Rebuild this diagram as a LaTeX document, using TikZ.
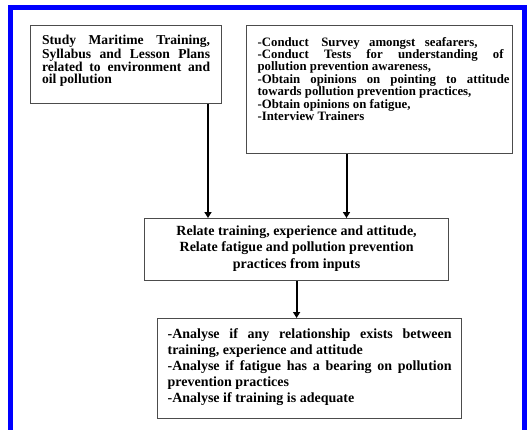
\documentclass[tikz,border=0pt]{standalone}
\usepackage{fontspec}
\setmainfont{Liberation Serif}
\usetikzlibrary{arrows.meta}
\newcommand\natsp{\spaceskip=0pt\xspaceskip=0pt\relax}
\begin{document}
\begin{tikzpicture}[x=1pt,y=-1pt,
  box/.style={draw=black!70, line width=1.2pt, anchor=north west, inner ysep=0pt, align=left},
  arr/.style={line width=2pt, -{Triangle[width=7pt,length=6pt]}}]
\useasboundingbox (0,0) rectangle (528,429);
\clip (0,0) rectangle (528,429);
\draw[blue, line width=5pt] (10.8,450) -- (10.8,7.5) -- (524.8,7.5) -- (524.8,450);

\node[box, inner xsep=11.5pt, text width=168pt, text height=19pt, text depth=59pt,
  font=\bfseries\fontsize{13.6}{12.3}\selectfont] (b1) at (30,25)
  {\natsp\makebox[168pt][s]{Study Maritime Training,}\\
   \makebox[168pt][s]{Syllabus and Lesson Plans}\\
   \makebox[168pt][s]{related to environment and}\\
   oil pollution};

\node[box, inner xsep=11pt, text width=244pt, text height=20.5pt, text depth=107.5pt,
  font=\bfseries\fontsize{12.8}{12.4}\selectfont] (b2) at (246,25)
  {\natsp\makebox[220pt][s]{-Conduct\hspace{3pt} Survey amongst seafarers,}\\
   \makebox[246pt][s]{-Conduct Tests for understanding of}\\
   pollution prevention awareness,\\
   \makebox[252pt][s]{-Obtain opinions on pointing to attitude}\\
   towards pollution prevention practices,\\
   -Obtain opinions on fatigue,\\
   -Interview Trainers};

\node[box, align=center, inner xsep=10pt, text width=284pt, text height=16.5pt, text depth=45.5pt,
  font=\bfseries\fontsize{14}{16.6}\selectfont] (b3) at (144,218)
  {\natsp\mbox{Relate training, experience and attitude,}\\
   \mbox{Relate fatigue and pollution prevention}\\
   \mbox{practices from inputs}};

\node[box, inner xsep=10pt, text width=284pt, text height=20pt, text depth=80pt,
  font=\bfseries\fontsize{14}{16}\selectfont] (b4) at (157,318)
  {\natsp\makebox[284pt][s]{-Analyse if any relationship exists between}\\
   training, experience and attitude\\
   \makebox[284pt][s]{-Analyse if fatigue has a bearing on pollution}\\
   prevention practices\\
   -Analyse if training is adequate};

\coordinate (c1) at (208,0);
\coordinate (c2) at (346.5,0);
\draw[arr] (b1.south -| c1) -- (b3.north -| c1);
\draw[arr] (b2.south -| c2) -- (b3.north -| c2);
\draw[arr] (b3.south) -- (b3.south |- b4.north);
\end{tikzpicture}
\end{document}
